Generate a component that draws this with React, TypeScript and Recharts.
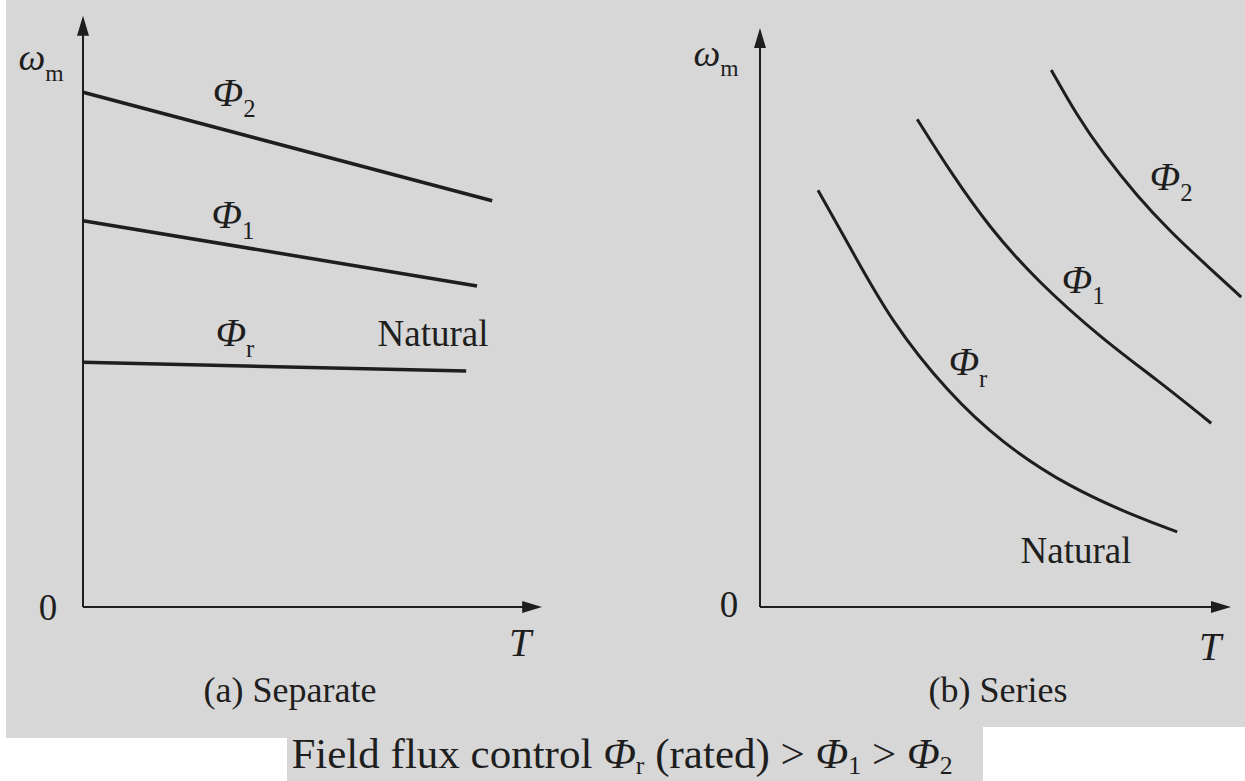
import React from 'react';
import { LineChart, Line, XAxis, YAxis, ReferenceLine, ReferenceDot } from 'recharts';

// torque T (x) vs speed ωm (y), arbitrary units
// (a) separately excited: straight lines, flatter at rated flux
const sepRated = [{ t: 0, w: 4.17 }, { t: 9.58, w: 4.02 }];
const sepFlux1 = [{ t: 0, w: 6.58 }, { t: 9.85, w: 5.47 }];
const sepFlux2 = [{ t: 0, w: 8.77 }, { t: 10.23, w: 6.92 }];

// (b) series: falling, roughly hyperbolic curves
const serRated = [
  { t: 1.45, w: 7.1 }, { t: 2.25, w: 6.13 }, { t: 3.28, w: 4.86 }, { t: 4.7, w: 3.65 },
  { t: 6.05, w: 2.79 }, { t: 7.73, w: 2.04 }, { t: 9.43, w: 1.53 }, { t: 10.43, w: 1.28 },
];
const serFlux1 = [
  { t: 3.93, w: 8.31 }, { t: 4.78, w: 7.39 }, { t: 5.73, w: 6.47 }, { t: 6.9, w: 5.57 },
  { t: 8.58, w: 4.55 }, { t: 9.93, w: 3.87 }, { t: 11.28, w: 3.13 },
];
const serFlux2 = [
  { t: 7.28, w: 9.15 }, { t: 7.9, w: 8.4 }, { t: 8.58, w: 7.72 }, { t: 9.43, w: 7.0 },
  { t: 10.25, w: 6.4 }, { t: 11.1, w: 5.86 }, { t: 12.03, w: 5.28 },
];

const fluxSubs = ['r', '1', '2'];
const panelTitles = ['(a) Separate', '(b) Series'];
const naturalText = 'Natural';

const INK = '#1e1e1e';
const PAPER = '#d7d7d7';
const SERIF = '"Liberation Serif", "Times New Roman", serif';

type Piece = { s: string; it?: boolean; sub?: boolean };

const flux = (sub: string): Piece[] => [{ s: 'Φ', it: true }, { s: sub, sub: true }];
const omega: Piece[] = [{ s: 'ω', it: true }, { s: 'm', sub: true }];

// text drawn at a reference point of the chart, centred on it (plus offsets)
function Tag({ viewBox, parts, size = 36, dx = 0, dy = 0 }: any) {
  const x = (viewBox?.x ?? 0) + dx;
  const y = (viewBox?.y ?? 0) + dy + size * 0.33;
  let inSub = false;
  return (
    <text x={x} y={y} textAnchor="middle" fontFamily={SERIF} fontSize={size} fill={INK}>
      {parts.map((p: Piece, i: number) => {
        let shift = 0;
        if (p.sub && !inSub) shift = size * 0.28;
        if (!p.sub && inSub) shift = -size * 0.28;
        inSub = !!p.sub;
        return (
          <tspan key={i} dy={shift} fontStyle={p.it ? 'italic' : 'normal'} fontSize={p.sub ? size * 0.62 : size}>
            {p.s}
          </tspan>
        );
      })}
    </text>
  );
}

const anchor = (x: number, y: number, label: React.ReactElement, key: string) => (
  <ReferenceDot key={key} x={x} y={y} r={0} ifOverflow="visible" stroke="none" fill="none" label={label} />
);

const axisProps = { stroke: INK, strokeWidth: 2, markerEnd: 'url(#axisArrow)' };

function SeparatePanel() {
  const xEnd = 11.08;
  const yEnd = 9.8;
  return (
    <LineChart width={600} height={680} margin={{ top: 20, right: 37, bottom: 73, left: 83 }}>
      <XAxis type="number" dataKey="t" domain={[0, 12]} hide />
      <YAxis type="number" dataKey="w" domain={[0, 10]} hide />
      <ReferenceLine segment={[{ x: 0, y: 0 }, { x: xEnd, y: 0 }]} {...axisProps} />
      <ReferenceLine segment={[{ x: 0, y: 0 }, { x: 0, y: yEnd }]} {...axisProps} />
      <Line data={sepFlux2} dataKey="w" type="linear" stroke={INK} strokeWidth={3.5} dot={false} isAnimationActive={false} />
      <Line data={sepFlux1} dataKey="w" type="linear" stroke={INK} strokeWidth={3.5} dot={false} isAnimationActive={false} />
      <Line data={sepRated} dataKey="w" type="linear" stroke={INK} strokeWidth={3.5} dot={false} isAnimationActive={false} />
      {anchor(3.78, 8.76, <Tag parts={flux(fluxSubs[2])} size={40} />, 'f2')}
      {anchor(3.75, 6.68, <Tag parts={flux(fluxSubs[1])} size={40} />, 'f1')}
      {anchor(3.8, 4.67, <Tag parts={flux(fluxSubs[0])} size={40} />, 'fr')}
      {anchor(8.75, 4.65, <Tag parts={[{ s: naturalText }]} size={37} />, 'nat')}
      {anchor(0, 0, <Tag parts={[{ s: '0' }]} size={37} dx={-35} dy={1} />, 'zero')}
      {anchor(0, yEnd, <Tag parts={omega} size={38} dx={-42} dy={26} />, 'w')}
      {anchor(xEnd, 0, <Tag parts={[{ s: 'T', it: true }]} size={40} dx={-6} dy={36} />, 'T')}
    </LineChart>
  );
}

function SeriesPanel() {
  const xEnd = 11.375;
  const yEnd = 9.59;
  return (
    <LineChart width={570} height={680} margin={{ top: 20, right: 2, bottom: 73, left: 80 }}>
      <XAxis type="number" dataKey="t" domain={[0, 12.2]} hide />
      <YAxis type="number" dataKey="w" domain={[0, 10]} hide />
      <ReferenceLine segment={[{ x: 0, y: 0 }, { x: xEnd, y: 0 }]} {...axisProps} />
      <ReferenceLine segment={[{ x: 0, y: 0 }, { x: 0, y: yEnd }]} {...axisProps} />
      <Line data={serFlux2} dataKey="w" type="basis" stroke={INK} strokeWidth={3} dot={false} isAnimationActive={false} />
      <Line data={serFlux1} dataKey="w" type="basis" stroke={INK} strokeWidth={3} dot={false} isAnimationActive={false} />
      <Line data={serRated} dataKey="w" type="basis" stroke={INK} strokeWidth={3} dot={false} isAnimationActive={false} />
      {anchor(10.28, 7.33, <Tag parts={flux(fluxSubs[2])} size={40} />, 'f2')}
      {anchor(8.08, 5.57, <Tag parts={flux(fluxSubs[1])} size={40} />, 'f1')}
      {anchor(5.2, 4.17, <Tag parts={flux(fluxSubs[0])} size={40} />, 'fr')}
      {anchor(7.9, 0.95, <Tag parts={[{ s: naturalText }]} size={37} />, 'nat')}
      {anchor(0, 0, <Tag parts={[{ s: '0' }]} size={37} dx={-31} dy={-2} />, 'zero')}
      {anchor(0, yEnd, <Tag parts={omega} size={38} dx={-44} dy={9} />, 'w')}
      {anchor(xEnd, 0, <Tag parts={[{ s: 'T', it: true }]} size={40} dx={-5} dy={40} />, 'T')}
    </LineChart>
  );
}

const textStyle: React.CSSProperties = {
  position: 'absolute',
  transform: 'translate(-50%, -50%)',
  fontFamily: SERIF,
  color: INK,
  lineHeight: 1,
  whiteSpace: 'nowrap',
};

const Sub = ({ children }: { children: React.ReactNode }) => (
  <span style={{ fontSize: '0.6em', verticalAlign: '-0.25em', lineHeight: 0 }}>{children}</span>
);

export default function App() {
  return (
    <div style={{ position: 'fixed', left: 0, top: 0, width: 1245, height: 781, background: '#fff', overflow: 'hidden' }}>
      <svg width={0} height={0} style={{ position: 'absolute' }}>
        <defs>
          <marker id="axisArrow" viewBox="0 0 20 12" refX={4} refY={6} markerWidth={20} markerHeight={12} markerUnits="userSpaceOnUse" orient="auto">
            <path d="M0,0 L20,6 L0,12 z" fill={INK} />
          </marker>
        </defs>
      </svg>
      {/* scanned page area */}
      <div style={{ position: 'absolute', left: 6, top: 0, width: 1239, height: 727, background: PAPER }} />
      <div style={{ position: 'absolute', left: 6, top: 727, width: 281, height: 11, background: PAPER }} />
      <div style={{ position: 'absolute', left: 287, top: 727, width: 696, height: 54, background: PAPER }} />

      <div style={{ position: 'absolute', left: 0, top: 0 }}>
        <SeparatePanel />
      </div>
      <div style={{ position: 'absolute', left: 680, top: 0 }}>
        <SeriesPanel />
      </div>

      <div style={{ ...textStyle, left: 290, top: 690, fontSize: 36 }}>{panelTitles[0]}</div>
      <div style={{ ...textStyle, left: 998, top: 690, fontSize: 36 }}>{panelTitles[1]}</div>
      <div style={{ ...textStyle, left: 622, top: 753, fontSize: 43 }}>
        Field flux control <i>Φ</i><Sub>{fluxSubs[0]}</Sub> (rated) &gt; <i>Φ</i><Sub>{fluxSubs[1]}</Sub> &gt;{' '}
        <i>Φ</i><Sub>{fluxSubs[2]}</Sub>
      </div>
    </div>
  );
}
